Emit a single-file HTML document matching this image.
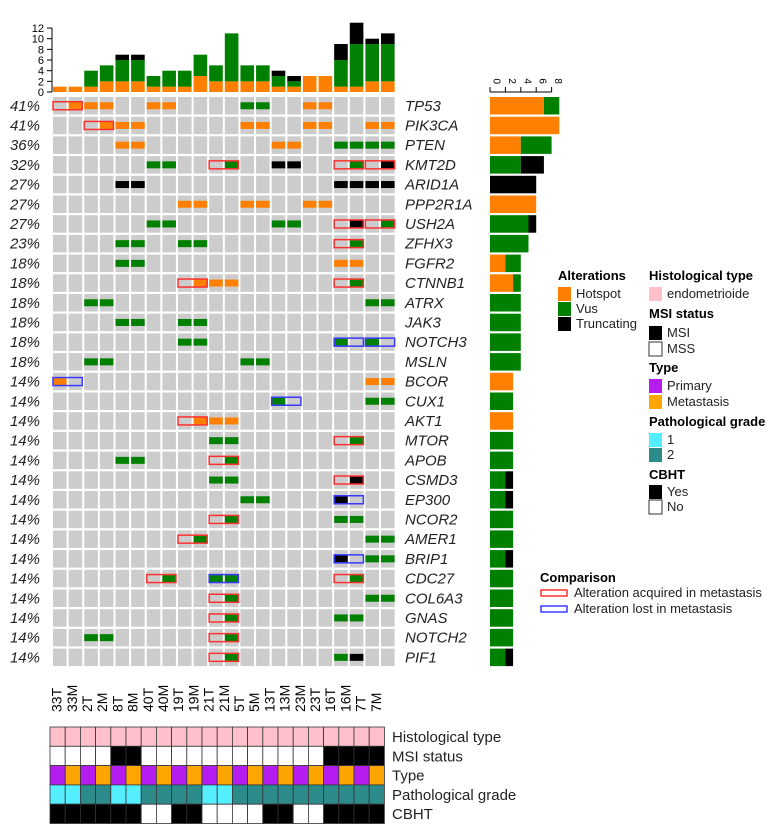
<!DOCTYPE html>
<html><head><meta charset="utf-8"><style>
html,body{margin:0;padding:0;background:#fff;width:780px;height:832px;overflow:hidden}
svg{display:block;font-family:"Liberation Sans",sans-serif}
</style></head><body>
<svg id="chart" width="780" height="832">
<g id="topbars"></g>
<g id="grid"></g>
<g id="rightbars"></g>
<g id="annot"></g>
<g id="legend"></g>
</svg>
<script>
const samples=["33T","33M","2T","2M","8T","8M","40T","40M","19T","19M","21T","21M","5T","5M","13T","13M","23M","23T","16T","16M","7T","7M"];
const topHot=[1,1,1,2,2,2,1,1,1,3,2,2,2,2,1,1,3,3,1,1,2,2];
const topVus=[0,0,3,3,4,4,2,3,3,4,3,9,3,3,2,1,0,0,5,8,7,7];
const topTrunc=[0,0,0,0,1,1,0,0,0,0,0,0,0,0,1,1,0,0,3,4,1,2];
const topTicks=[0,2,4,6,8,10,12];
const genes=["TP53","PIK3CA","PTEN","KMT2D","ARID1A","PPP2R1A","USH2A","ZFHX3","FGFR2","CTNNB1","ATRX","JAK3","NOTCH3","MSLN","BCOR","CUX1","AKT1","MTOR","APOB","CSMD3","EP300","NCOR2","AMER1","BRIP1","CDC27","COL6A3","GNAS","NOTCH2","PIF1"];
const pcts=["41%","41%","36%","32%","27%","27%","27%","23%","18%","18%","18%","18%","18%","18%","14%","14%","14%","14%","14%","14%","14%","14%","14%","14%","14%","14%","14%","14%","14%"];
// per gene: column(1-based)+type strings
const muts=[
"2H 3H 4H 7H 8H 13V 14V 17H 18H",
"4H 5H 6H 13H 14H 17H 18H 21H 22H",
"5H 6H 15H 16H 19V 20V 21V 22V",
"7V 8V 12V 15T 16T 20V 22T",
"5T 6T 19T 20T 21T 22T",
"9H 10H 13H 14H 17H 18H",
"7V 8V 15V 16V 20T 22V",
"5V 6V 9V 10V 20V",
"5V 6V 19H 20H",
"10H 11H 12H 20V",
"3V 4V 21V 22V",
"5V 6V 9V 10V",
"9V 10V 19V 21V",
"3V 4V 13V 14V",
"1H 21H 22H",
"15V 21V 22V",
"10H 11H 12H",
"11V 12V 20V",
"5V 6V 12V",
"11V 12V 20T",
"13V 14V 19T",
"12V 19V 20V",
"10V 21V 22V",
"19T 21V 22V",
"8V 12V 11V 20V",
"12V 21V 22V",
"12V 19V 20V",
"3V 4V 12V",
"12V 19V 20T"];
// comparison boxes: gene index, first column, color r/b
const boxes=[[0,1,"r"],[1,3,"r"],[3,11,"r"],[3,19,"r"],[3,21,"r"],[6,19,"r"],[6,21,"r"],[7,19,"r"],[9,9,"r"],[9,19,"r"],[12,19,"b"],[12,21,"b"],[14,1,"b"],[15,15,"b"],[16,9,"r"],[17,19,"r"],[18,11,"r"],[19,19,"r"],[20,19,"b"],[21,11,"r"],[22,9,"r"],[23,19,"b"],[24,7,"r"],[24,11,"b"],[24,19,"r"],[25,11,"r"],[26,11,"r"],[27,11,"r"],[28,11,"r"]];
const rHot=[7,9,4,0,0,6,0,0,2,3,0,0,0,0,3,0,3,0,0,0,0,0,0,0,0,0,0,0,0];
const rVus=[2,0,4,4,0,0,5,5,2,1,4,4,4,4,0,3,0,3,3,2,2,3,3,2,3,3,3,3,2];
const rTrunc=[0,0,0,3,6,0,1,0,0,0,0,0,0,0,0,0,0,0,0,1,1,0,0,1,0,0,0,0,1];
const rTicks=[0,2,4,6,8];
const msi=[0,0,0,0,1,1,0,0,0,0,0,0,0,0,0,0,0,0,1,1,1,1];
const grade=[1,1,2,2,1,1,2,2,2,2,1,1,2,2,2,2,2,2,2,2,2,2];
const cbht=[1,1,1,1,1,1,0,0,1,1,0,0,0,0,1,1,0,0,1,1,1,1];
const annotLabels=["Histological type","MSI status","Type","Pathological grade","CBHT"];

const NS="http://www.w3.org/2000/svg";
const C={H:"#ff8000",V:"#008000",T:"#000000"};
function mk(p,tag,at,txt){const e=document.createElementNS(NS,tag);for(const k in at)e.setAttribute(k,at[k]);if(txt!==undefined)e.textContent=txt;p.appendChild(e);return e;}
const gx0=53,colW=15.62,cellW=13.6,gy0=97,rowH=19.7,cellH=17.5;
const colX=i=>gx0+i*colW;
const rowY=r=>gy0+r*rowH;
// top bars
const tb=document.getElementById("topbars");
const tBase=92,tScale=5.33;
const ty=v=>tBase-v*tScale;
let ax=mk(tb,"line",{x1:52,y1:ty(12),x2:52,y2:tBase,stroke:"#000"});

topTicks.forEach(t=>{mk(tb,"line",{x1:47,x2:52,y1:ty(t),y2:ty(t),stroke:"#000"});
 const l=mk(tb,"text",{x:44,y:ty(t)+4,"text-anchor":"end","font-size":11},String(t));
 });
samples.forEach((s,i)=>{let b=0;[[topHot,"H"],[topVus,"V"],[topTrunc,"T"]].forEach(([a,k])=>{if(a[i]>0){
 const r=mk(tb,"rect",{x:colX(i),y:ty(b+a[i]),width:cellW,height:a[i]*tScale,fill:C[k]});
 b+=a[i];}});});
// grid
const g=document.getElementById("grid");
genes.forEach((gn,r)=>{
 const y=rowY(r);
 const p=mk(g,"text",{x:40,y:y+cellH/2+5,"text-anchor":"end","font-size":15,"font-style":"italic",fill:"#222"},pcts[r]);
 
 const gl=mk(g,"text",{x:405,y:y+cellH/2+5,"font-size":15,"font-style":"italic",fill:"#222"},gn);
 
 samples.forEach((s,i)=>{mk(g,"rect",{x:colX(i),y:y,width:cellW,height:cellH,fill:"#cccccc"});});
 muts[r].split(" ").forEach(m=>{const c=parseInt(m)-1,k=m.slice(-1);
  const e=mk(g,"rect",{x:colX(c),y:y+cellH/2-3.5,width:cellW,height:7,fill:C[k]});
  });
});
boxes.forEach(([r,c,col])=>{const y=rowY(r);
 const b=mk(g,"rect",{x:colX(c-1),y:y+cellH/2-4,width:colW+cellW,height:8,fill:"none",stroke:col=="r"?"#ff3030":"#3a3aff","stroke-width":1.5});
 });
// right bars
const rb=document.getElementById("rightbars");
const rx0=490,rScale=7.7;const rx=v=>rx0+v*rScale;
mk(rb,"line",{x1:rx(0),x2:rx(8),y1:92,y2:92,stroke:"#000"});
rTicks.forEach(t=>{mk(rb,"line",{x1:rx(t),x2:rx(t),y1:87,y2:92,stroke:"#000"});
 const l=mk(rb,"text",{x:rx(t)+3.5,y:84,"font-size":10,transform:`rotate(90 ${rx(t)+3.5} 84)`,"text-anchor":"end"},String(t));
 });
genes.forEach((gn,r)=>{let b=0;[[rHot,"H"],[rVus,"V"],[rTrunc,"T"]].forEach(([a,k])=>{if(a[r]>0){
 const e=mk(rb,"rect",{x:rx(b),y:rowY(r),width:a[r]*rScale,height:cellH,fill:C[k]});
 b+=a[r];}});});
// annotations
const an=document.getElementById("annot");
const ax0=50,aW=15.2,ay0=727,aH=19.3;
samples.forEach((s,i)=>{const cx=ax0+i*aW+aW/2+4;
 const t=mk(an,"text",{x:cx,y:712,"font-size":14,transform:`rotate(-90 ${cx} 712)`},s);
 
 const fills=["#ffc0cb",msi[i]?"#000":"#fff",i%2?"#ffa500":"#b41cf0",grade[i]==1?"#55eeff":"#2e8b8b",cbht[i]?"#000":"#fff"];
 fills.forEach((f,k)=>{const e=mk(an,"rect",{x:ax0+i*aW,y:ay0+k*aH,width:aW,height:aH,fill:f,stroke:"#333","stroke-width":0.8});
  });});
annotLabels.forEach((l,k)=>{const t=mk(an,"text",{x:392,y:ay0+k*aH+15,"font-size":15,fill:"#222"},l);
 });
// legend
const lg=document.getElementById("legend");
function title(x,y,s){const t=mk(lg,"text",{x:x,y:y,"font-size":13,"font-weight":"bold"},s);}
function item(x,y,f,s,stroke){const r=mk(lg,"rect",{x:x,y:y-11,width:13,height:14,fill:f,stroke:stroke||"none"});
 
 const t=mk(lg,"text",{x:x+18,y:y,"font-size":13,fill:"#222"},s);}
title(558,280,"Alterations");item(558,298,"#ff8000","Hotspot");item(558,313,"#008000","Vus");item(558,328,"#000","Truncating");
title(649,280,"Histological type");item(649,298,"#ffc0cb","endometrioide");
title(649,318,"MSI status");item(649,337,"#000","MSI");item(649,353,"#fff","MSS","#333");
title(649,372,"Type");item(649,390,"#b41cf0","Primary");item(649,406,"#ffa500","Metastasis");
title(649,426,"Pathological grade");item(649,444,"#55eeff","1");item(649,459,"#2e8b8b","2");
title(649,479,"CBHT");item(649,496,"#000","Yes");item(649,511,"#fff","No","#333");
title(540,582,"Comparison");
[["#ff3030","Alteration acquired in metastasis",597],["#3a3aff","Alteration lost in metastasis",613]].forEach(([c,s,y])=>{
 const r=mk(lg,"rect",{x:541,y:y-7,width:26,height:6,fill:"none",stroke:c,"stroke-width":1.5});
 const t=mk(lg,"text",{x:574,y:y,"font-size":13,fill:"#222"},s);});
</script>
</body></html>
